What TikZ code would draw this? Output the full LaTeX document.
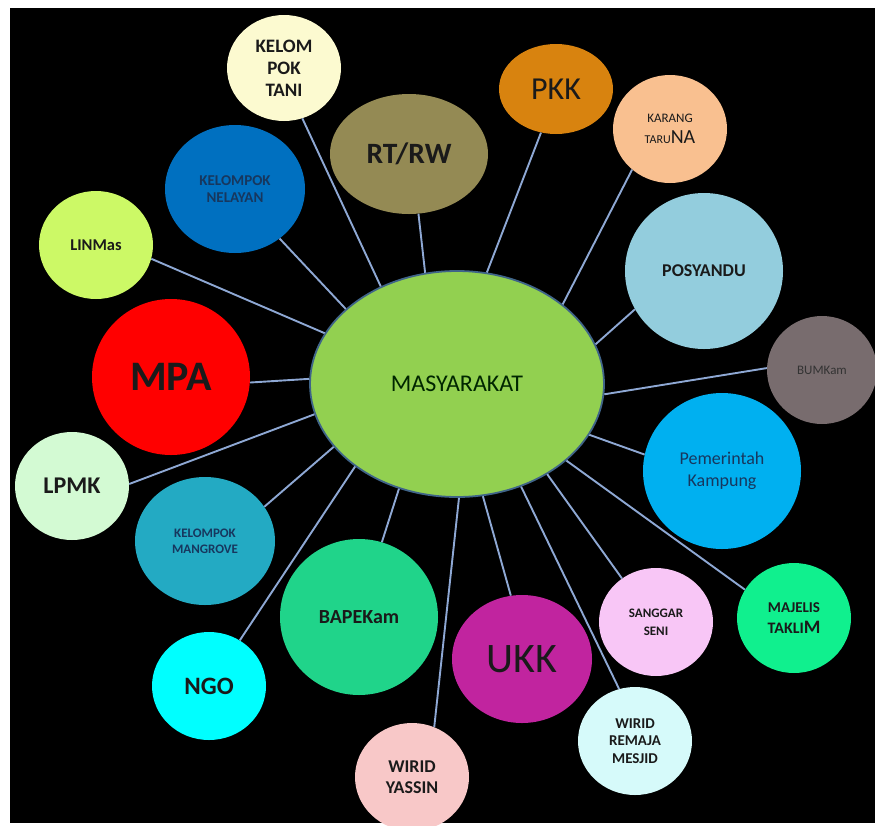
\documentclass[tikz,border=0pt]{standalone}
\usepackage{fontspec}
\setmainfont{Carlito}
\usetikzlibrary{shapes.geometric}
\definecolor{linkc}{HTML}{8EA8D4}
\definecolor{txt}{HTML}{1A1A1A}
\definecolor{navy}{HTML}{17375E}
\definecolor{cTani}{HTML}{FCFAD0}
\definecolor{cRtrw}{HTML}{948A54}
\definecolor{cPkk}{HTML}{D8830F}
\definecolor{cKarang}{HTML}{F9C090}
\definecolor{cPos}{HTML}{93CDDD}
\definecolor{cBum}{HTML}{786C6E}
\definecolor{cPem}{HTML}{00B0F0}
\definecolor{cMaj}{HTML}{10F08E}
\definecolor{cSang}{HTML}{F8C6F6}
\definecolor{cRem}{HTML}{D6FAFA}
\definecolor{cUkk}{HTML}{C1249F}
\definecolor{cYas}{HTML}{F8C8C8}
\definecolor{cBap}{HTML}{20D48A}
\definecolor{cNgo}{HTML}{00FFFF}
\definecolor{cMang}{HTML}{23AAC3}
\definecolor{cLpmk}{HTML}{D3FAD3}
\definecolor{cMpa}{HTML}{FF0000}
\definecolor{cLin}{HTML}{CCF966}
\definecolor{cNel}{HTML}{0070C0}
\definecolor{cMas}{HTML}{92D050}
\definecolor{cMasB}{HTML}{3F6488}
\newcommand{\fs}[2]{\fontsize{#1}{#2}\selectfont}
\begin{document}
\begin{tikzpicture}[x=1pt,y=-1pt,
  bub/.style={ellipse, inner sep=0pt, align=center, text=txt},
  link/.style={draw=linkc, line width=1.9pt}]
\useasboundingbox (0,0) rectangle (875,825);
\clip (0,0) rectangle (875,825);
\fill[white] (0,0) rectangle (875,825);
\fill[black] (10,8) rectangle (875,823);

\node[bub, fill=cMas, draw=cMasB, line width=1.8pt, minimum width=294pt, minimum height=226pt, text=black!85!green, font=\fs{24}{28}] (m) at (457,384) {MASYARAKAT};

\node[bub, fill=cTani, minimum width=114pt, minimum height=106pt, font=\fs{19}{22}\bfseries] (tani) at (284,68) {KELOM\\POK\\TANI};
\node[bub, fill=cRtrw, minimum width=158pt, minimum height=120pt, font=\fs{29.5}{32}\bfseries] (rtrw) at (409,154) {RT/RW};
\node[bub, fill=cPkk, minimum width=114pt, minimum height=90pt, font=\fs{32}{36}] (pkk) at (556,89) {PKK};
\node[bub, fill=cKarang, minimum width=114pt, minimum height=108pt, font=\fs{13}{21}] (karang) at (670,129) {KARANG\\{\fs{12}{21}TARU}{\fs{20}{21}NA}};
\node[bub, fill=cPos, minimum width=158pt, minimum height=156pt, font=\fs{18}{22}\bfseries] (pos) at (704,271) {POSYANDU};
\node[bub, fill=cBum, minimum width=110pt, minimum height=108pt, text=black!80, font=\fs{13}{16}] (bum) at (822,370) {BUMKam};
\node[bub, fill=cPem, minimum width=158pt, minimum height=156pt, text=navy, font=\fs{18}{22}] (pem) at (722,471) {Pemerintah\\Kampung};
\node[bub, fill=cMaj, minimum width=114pt, minimum height=110pt, font=\fs{15}{21}\bfseries] (maj) at (794,618) {MAJELIS\\{\fs{16}{21}TAKLI}{\fs{19}{21}M}};
\node[bub, fill=cSang, minimum width=114pt, minimum height=108pt, font=\fs{13}{18}\bfseries] (sang) at (656,622) {SANGGAR\\SENI};
\node[bub, fill=cRem, minimum width=114pt, minimum height=108pt, font=\fs{15}{17.5}\bfseries] (rem) at (635,741) {WIRID\\REMAJA\\MESJID};
\node[bub, fill=cUkk, minimum width=140pt, minimum height=128pt, font=\fs{42}{44}] (ukk) at (522,659) {UKK};
\node[bub, fill=cYas, minimum width=114pt, minimum height=108pt, font=\fs{18}{21}\bfseries] (yas) at (412,777) {WIRID\\YASSIN};
\node[bub, fill=cBap, minimum width=158pt, minimum height=156pt, font=\fs{20}{24}\bfseries] (bap) at (359,617) {BAPEKam};
\node[bub, fill=cNgo, minimum width=114pt, minimum height=108pt, font=\fs{25}{28}\bfseries] (ngo) at (209,686) {NGO};
\node[bub, fill=cMang, minimum width=140pt, minimum height=128pt, text=navy, font=\fs{13}{16}\bfseries] (mang) at (205,541) {KELOMPOK\\MANGROVE};
\node[bub, fill=cLpmk, minimum width=114pt, minimum height=108pt, font=\fs{24}{28}\bfseries] (lpmk) at (72,486) {LPMK};
\node[bub, fill=cMpa, minimum width=158pt, minimum height=156pt, font=\fs{42}{44}\bfseries] (mpa) at (171,377) {MPA};
\node[bub, fill=cLin, minimum width=114pt, minimum height=108pt, font=\fs{16.5}{20}\bfseries] (lin) at (96,245) {LINMas};
\node[bub, fill=cNel, minimum width=140pt, minimum height=128pt, text=navy, font=\fs{15}{17}\bfseries] (nel) at (235,189) {KELOMPOK\\NELAYAN};

\draw[link] (m.128.9) -- (tani.-70.9);
\draw[link] (m.106.1) -- (rtrw.-81.3);
\draw[link] (m.146.0) -- (nel.-48.4);
\draw[link] (m.159.9) -- (lin.-14.3);
\draw[link] (m.178.5) -- (mpa.-4.2);
\draw[link] (m.192.1) -- (lpmk.2.8);
\draw[link] (m.207.8) -- (mang.30.1);
\draw[link] (m.219.6) -- (ngo.56.0);
\draw[link] (m.241.6) -- (bap.73.8);
\draw[link] (m.-89.5) -- (yas.66.8);
\draw[link] (m.-77.8) -- (ukk.100.3);
\draw[link] (m.-58.5) -- (rem.107.8);
\draw[link] (m.-45.9) -- (sang.128.7);
\draw[link] (m.-35.7) -- (maj.150.0);
\draw[link] (m.-21.4) -- (pem.168.7);
\draw[link] (m.-4.3) -- (bum.178.1);
\draw[link] (m.16.6) -- (pos.209.6);
\draw[link] (m.37.1) -- (karang.227.1);
\draw[link] (m.75.9) -- (pkk.251.6);
\end{tikzpicture}
\end{document}
